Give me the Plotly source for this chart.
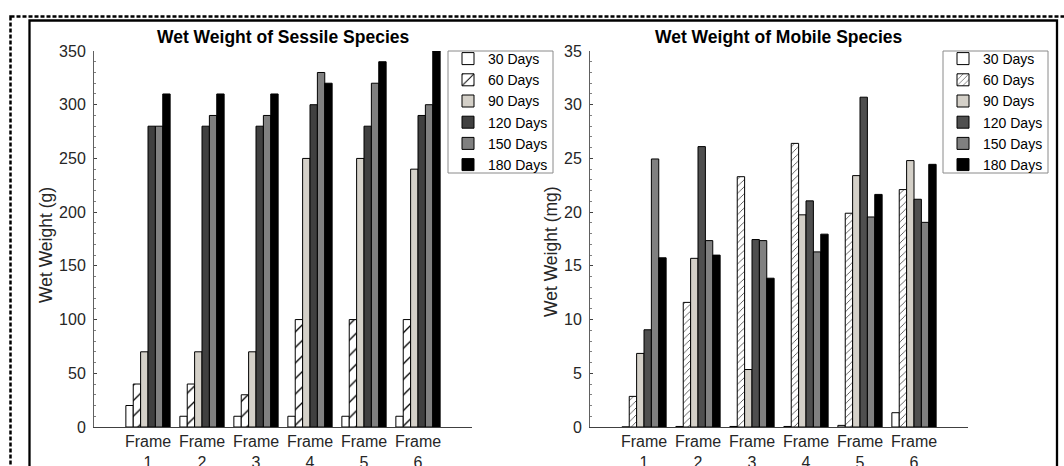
import plotly.graph_objects as go

frames = ["Frame<br>1", "Frame<br>2", "Frame<br>3", "Frame<br>4", "Frame<br>5", "Frame<br>6"]
frame_pos = [1, 2, 3, 4, 5, 6]
series_names = ["30 Days", "60 Days", "90 Days", "120 Days", "150 Days", "180 Days"]

# Sessile species wet weight (g)
sessile_30 = [20, 10, 10, 10, 10, 10]
sessile_60 = [40, 40, 30, 100, 100, 100]
sessile_90 = [70, 70, 70, 250, 250, 240]
sessile_120 = [280, 280, 280, 300, 280, 290]
sessile_150 = [280, 290, 290, 330, 320, 300]
sessile_180 = [310, 310, 310, 320, 340, 350]

# Mobile species wet weight (mg)
mobile_30 = [0.0, 0.05, 0.05, 0.05, 0.15, 1.33]
mobile_60 = [2.85, 11.6, 23.3, 26.4, 19.9, 22.1]
mobile_90 = [6.85, 15.7, 5.35, 19.75, 23.4, 24.8]
mobile_120 = [9.05, 26.1, 17.45, 21.05, 30.7, 21.2]
mobile_150 = [24.95, 17.35, 17.35, 16.3, 19.55, 19.05]
mobile_180 = [15.75, 16.0, 13.85, 17.95, 21.65, 24.45]

sessile = [sessile_30, sessile_60, sessile_90, sessile_120, sessile_150, sessile_180]
mobile = [mobile_30, mobile_60, mobile_90, mobile_120, mobile_150, mobile_180]

W, H = 1064, 466
FONT = "Liberation Sans, Arial, Helvetica, sans-serif"
TXT = "#262626"

left_colors = ["#ffffff", "#ffffff", "#d4d0c8", "#404040", "#808080", "#000000"]
right_colors = ["#ffffff", "#ffffff", "#d4d0c8", "#4f4f4f", "#808080", "#000000"]

fig = go.Figure()


def add_series(data, colors, xa, ya, legend, hatch_size):
    for name, vals, col in zip(series_names, data, colors):
        marker = dict(color=col, line=dict(color="#000000", width=1))
        if name == "60 Days":
            marker["pattern"] = dict(shape="/", fgcolor="#000000", bgcolor="#ffffff",
                                     size=hatch_size, solidity=0.12, fillmode="replace")
        fig.add_trace(go.Bar(x=frame_pos, y=vals, name=name, marker=marker,
                             xaxis=xa, yaxis=ya, legend=legend))


add_series(sessile, left_colors, "x", "y", "legend", 11)
add_series(mobile, right_colors, "x2", "y2", "legend2", 5)


def px_x(p):
    return p / W


def px_y(p):
    return (H - p) / H


ydom = [px_y(427), px_y(51)]

xcommon = dict(range=[0, 7], tickvals=frame_pos, ticktext=frames, ticks="",
               showline=True, linecolor="#404040", linewidth=1, showgrid=False,
               zeroline=False, tickfont=dict(family=FONT, size=16, color=TXT),
               fixedrange=True, automargin=False)

legend_common = dict(xanchor="left", yanchor="top", bgcolor="rgba(0,0,0,0)",
                     borderwidth=0, font=dict(family=FONT, size=14, color="#000000"),
                     traceorder="normal", itemwidth=30, tracegroupgap=0)

fig.update_layout(
    width=W, height=H, autosize=False,
    margin=dict(l=0, r=0, t=0, b=0, pad=0, autoexpand=False),
    paper_bgcolor="#ffffff", plot_bgcolor="#ffffff",
    barmode="group", bargap=0.18, bargroupgap=0,
    showlegend=True,
    font=dict(family=FONT, color=TXT),
    xaxis=dict(domain=[px_x(94), px_x(472)], anchor="y", **xcommon),
    xaxis2=dict(domain=[px_x(590), px_x(968)], anchor="y2", **xcommon),
    yaxis=dict(domain=ydom, anchor="x", range=[0, 350], dtick=50, tick0=0,
               ticks="inside", ticklen=3, tickcolor="#404040",
               minor=dict(ticks="inside", ticklen=2, dtick=10, tickcolor="#808080"),
               showline=True, linecolor="#606060", linewidth=1, showgrid=False,
               zeroline=False, ticklabelstandoff=4, automargin=False, fixedrange=True,
               tickfont=dict(family=FONT, size=16, color=TXT)),
    yaxis2=dict(domain=ydom, anchor="x2", range=[0, 35], dtick=5, tick0=0,
                ticks="inside", ticklen=3, tickcolor="#404040",
                minor=dict(ticks="inside", ticklen=2, dtick=1, tickcolor="#808080"),
                showline=True, linecolor="#606060", linewidth=1, showgrid=False,
                zeroline=False, ticklabelstandoff=4, automargin=False, fixedrange=True,
                tickfont=dict(family=FONT, size=16, color=TXT)),
    legend=dict(x=px_x(448), y=px_y(43), **legend_common),
    legend2=dict(x=px_x(943), y=px_y(43), **legend_common),
)

# Titles and axis labels
fig.add_annotation(text="<b>Wet Weight of Sessile Species</b>", xref="x domain", yref="y domain",
                   x=0.5, y=1, yshift=14, yanchor="middle", showarrow=False,
                   font=dict(family=FONT, size=17.5, color="#000000"))
fig.add_annotation(text="<b>Wet Weight of Mobile Species</b>", xref="x2 domain", yref="y2 domain",
                   x=0.5, y=1, yshift=14, yanchor="middle", showarrow=False,
                   font=dict(family=FONT, size=17.5, color="#000000"))
fig.add_annotation(text="Wet Weight (g)", xref="x domain", yref="y domain",
                   x=0, y=0.5, xshift=-48, yshift=-6, textangle=-90, showarrow=False,
                   xanchor="center", yanchor="middle",
                   font=dict(family=FONT, size=17.5, color=TXT))
fig.add_annotation(text="Wet Weight (mg)", xref="x2 domain", yref="y2 domain",
                   x=0, y=0.5, xshift=-39, yshift=-13, textangle=-90, showarrow=False,
                   xanchor="center", yanchor="middle",
                   font=dict(family=FONT, size=17.5, color=TXT))

# Legend frames
for lx in [448, 943]:
    fig.add_shape(type="rect", xref="paper", yref="paper",
                  x0=px_x(lx), x1=px_x(lx + 105), y0=px_y(51), y1=px_y(173),
                  line=dict(color="#8a8a8a", width=1), fillcolor="rgba(0,0,0,0)", layer="above")

# Figure borders (dashed outer frame and solid inner frame)
fig.add_shape(type="rect", xref="paper", yref="paper",
              x0=px_x(10.5), x1=px_x(1075), y0=px_y(16.5), y1=px_y(490),
              line=dict(color="#000000", width=2.5, dash="4px,2px"), fillcolor="rgba(0,0,0,0)",
              layer="above")
fig.add_shape(type="rect", xref="paper", yref="paper",
              x0=px_x(29.5), x1=px_x(1057), y0=px_y(20.5), y1=px_y(490),
              line=dict(color="#000000", width=2.3), fillcolor="rgba(0,0,0,0)",
              layer="above")

fig.write_html("out.html", config={"displayModeBar": False},
               post_script="document.body.style.margin='0';document.body.style.overflow='hidden';")
